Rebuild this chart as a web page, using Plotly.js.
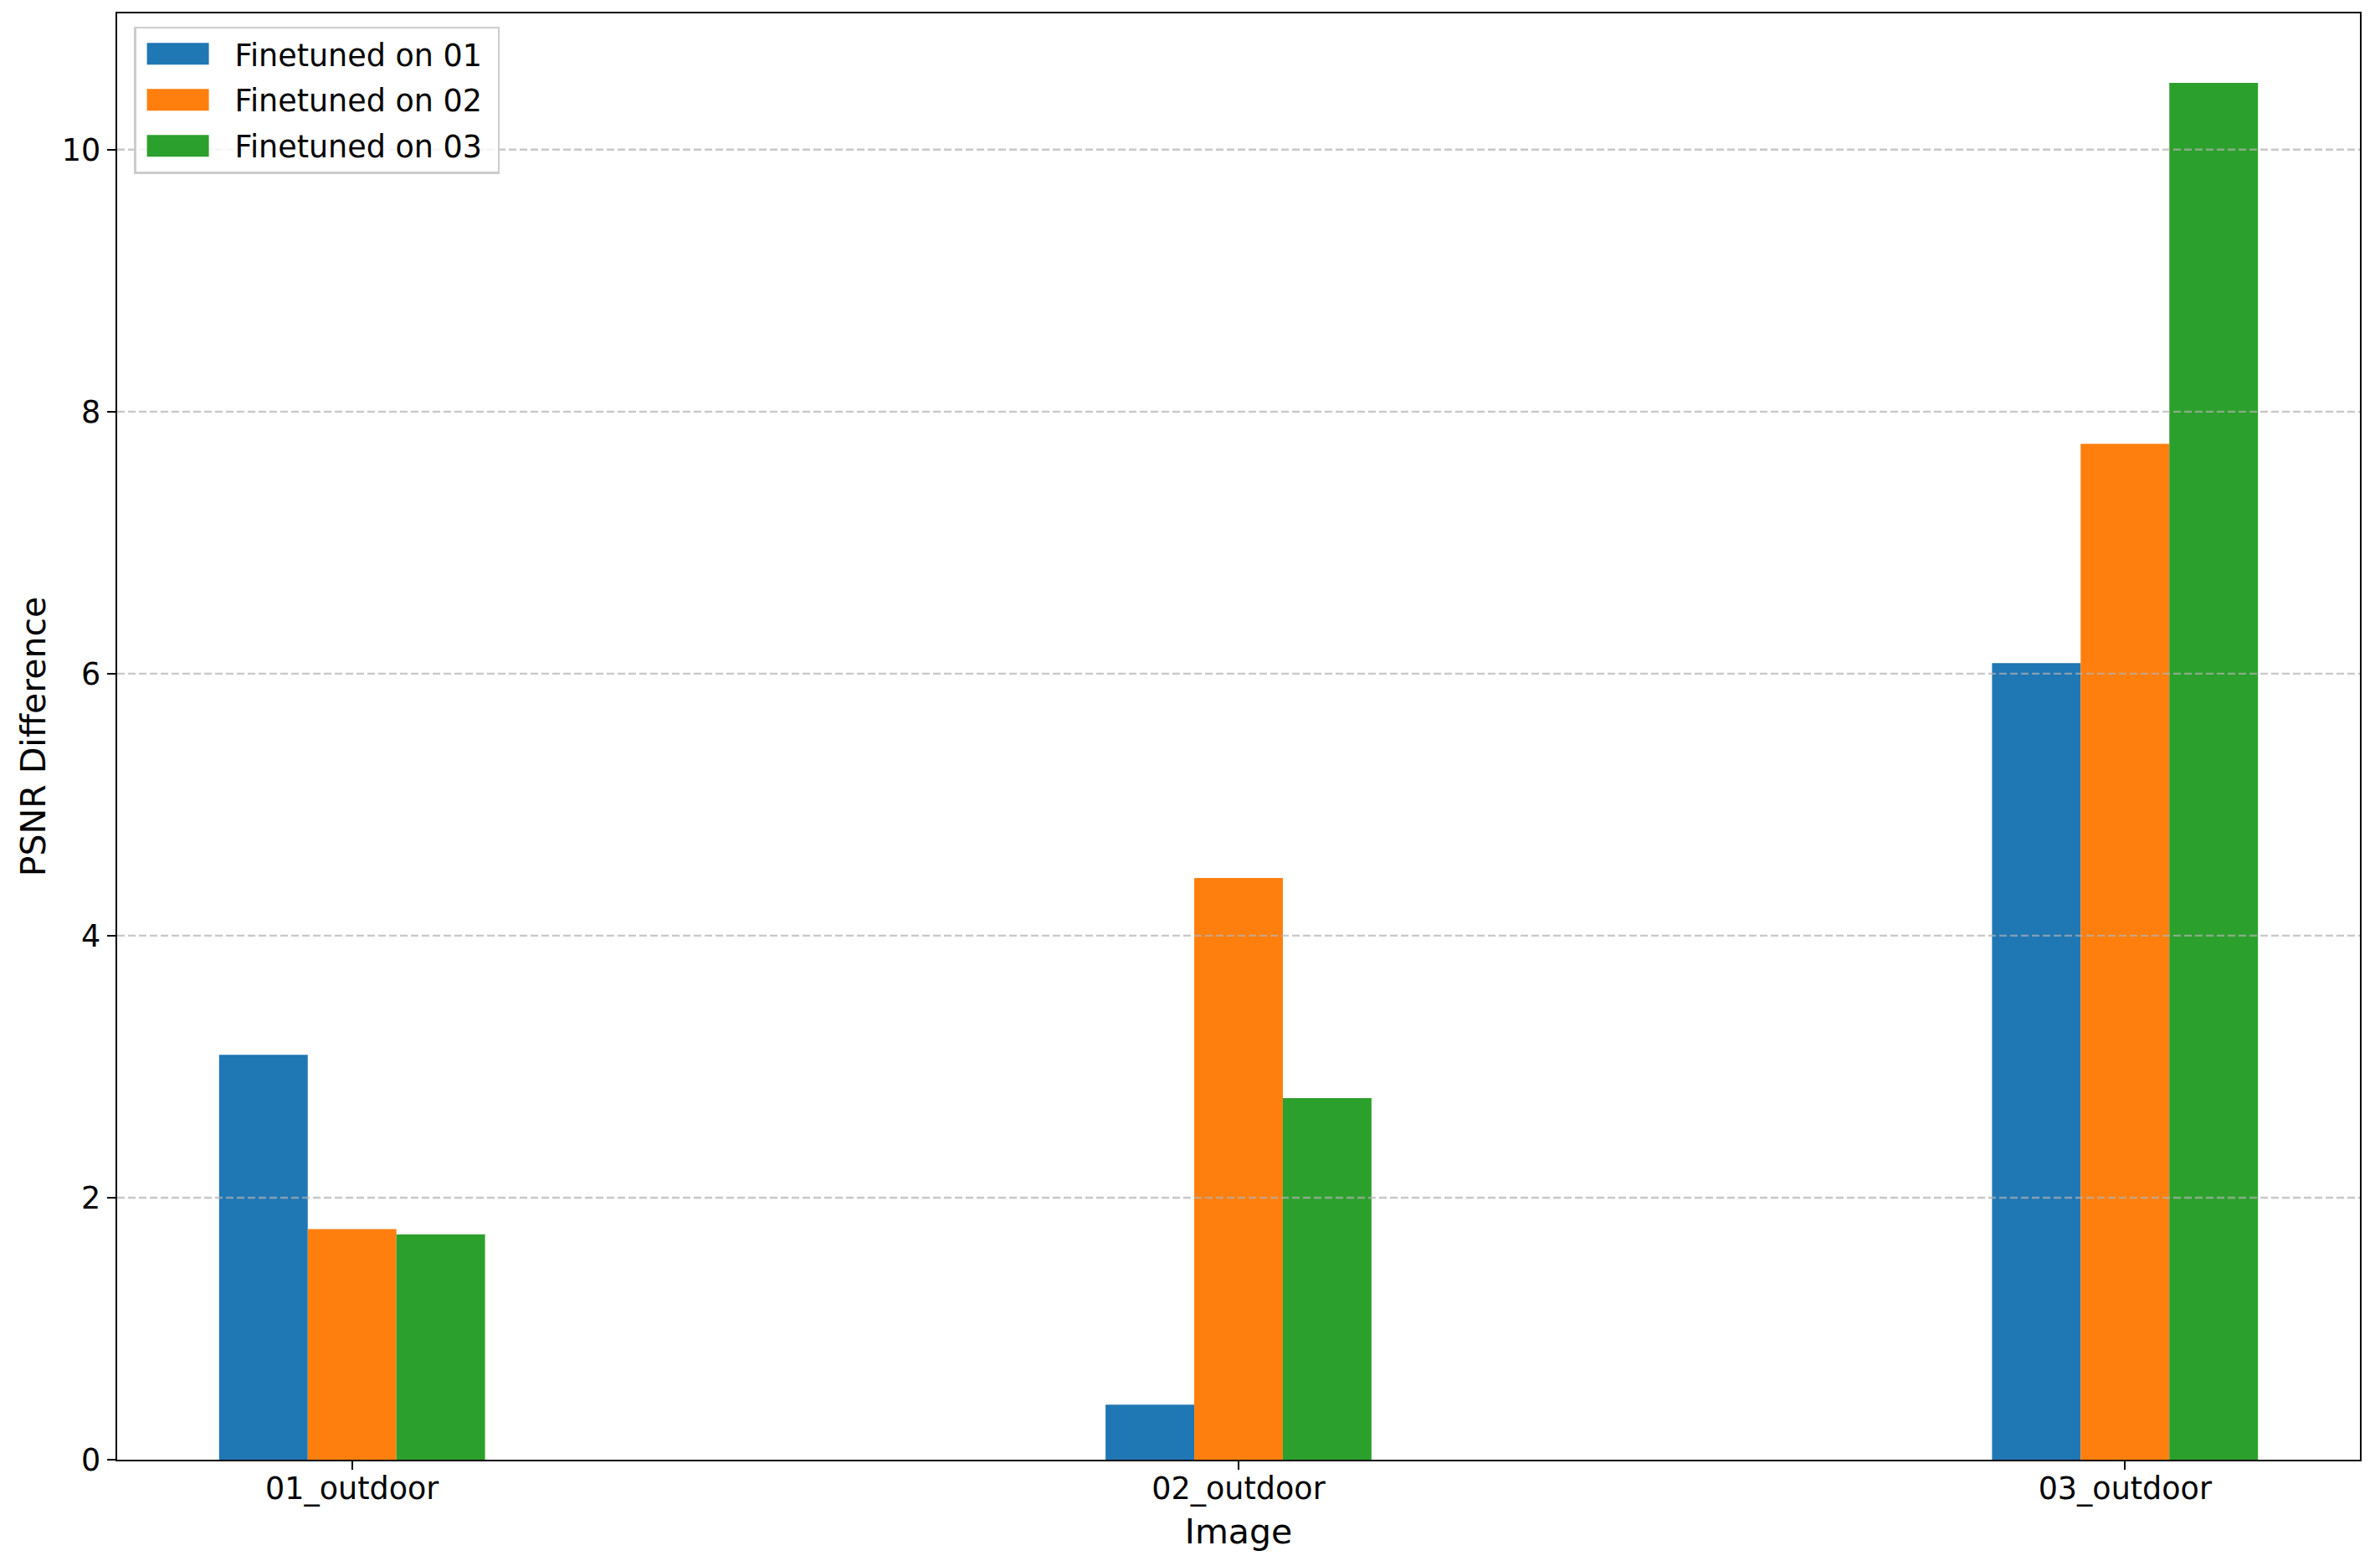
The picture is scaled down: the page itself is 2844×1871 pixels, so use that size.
<!DOCTYPE html>
<html>
<head>
<meta charset="utf-8">
<script src="https://cdn.plot.ly/plotly-3.0.1.min.js"></script>
<style>body{margin:0;padding:0;background:#fff;}#chart{width:2844px;height:1871px;}</style>
</head>
<body>
<div id="chart"></div>
<script>
// ---- data ----
var categories = ["01_outdoor", "02_outdoor", "03_outdoor"];
var seriesNames = ["Finetuned on 01", "Finetuned on 02", "Finetuned on 03"];
var finetuned01 = [3.09, 0.42, 6.08];
var finetuned02 = [1.76, 4.44, 7.755];
var finetuned03 = [1.72, 2.76, 10.51];
var yTicks = [0, 2, 4, 6, 8, 10];
var xTitle = "Image";
var yTitle = "PSNR Difference";

var colors = ["#1f77b4", "#ff7f0e", "#2ca02c"];
var allSeries = [finetuned01, finetuned02, finetuned03];
var FONT = "DejaVu Sans, Liberation Sans, sans-serif";

var traces = allSeries.map(function (vals, i) {
  return {
    type: "bar",
    name: seriesNames[i],
    x: categories,
    y: vals,
    marker: { color: colors[i], line: { width: 0 } },
    legendgroup: "g" + i,
    hoverinfo: "x+y+name"
  };
});

var shapes = yTicks.filter(function (v) { return v > 0; }).map(function (v) {
  return {
    type: "line", xref: "paper", yref: "y", x0: 0, x1: 1, y0: v, y1: v,
    line: { color: "rgba(176,176,176,0.7)", width: 2.4, dash: "9px,4px" },
    layer: "above"
  };
});

var layout = {
  width: 2844,
  height: 1871,
  margin: { l: 140, r: 24, t: 16, b: 127, pad: 0 },
  paper_bgcolor: "#ffffff",
  plot_bgcolor: "#ffffff",
  font: { family: FONT, color: "#000000", size: 36.5 },
  barmode: "group",
  bargap: 0.7,
  bargroupgap: 0,
  showlegend: true,
  legend: {
    x: 0.0075, y: 0.991, xanchor: "left", yanchor: "top",
    bgcolor: "rgba(255,255,255,0.8)",
    bordercolor: "#cccccc", borderwidth: 2.5,
    font: { family: FONT, size: 36.5, color: "#000000" },
    itemwidth: 108,
    traceorder: "grouped",
    tracegroupgap: 4.5
  },
  xaxis: {
    type: "category",
    range: [-0.265, 2.265],
    showline: true, mirror: true, linecolor: "#000000", linewidth: 2.4,
    ticks: "outside", ticklen: 10, tickwidth: 2.4, tickcolor: "#000000",
    ticklabelstandoff: -9,
    tickfont: { family: FONT, size: 36.5, color: "#000000" },
    showgrid: false, zeroline: false,
    automargin: false,
    title: { text: xTitle, font: { family: FONT, size: 41, color: "#000000" }, standoff: 16 }
  },
  yaxis: {
    range: [0, 11.04],
    tickmode: "array", tickvals: yTicks, ticktext: yTicks.map(String),
    showline: true, mirror: true, linecolor: "#000000", linewidth: 2.4,
    ticks: "outside", ticklen: 10, tickwidth: 2.4, tickcolor: "#000000",
    tickfont: { family: FONT, size: 36.5, color: "#000000" },
    showgrid: false, zeroline: false,
    automargin: false,
    title: { text: yTitle, font: { family: FONT, size: 41, color: "#000000" }, standoff: 7 }
  },
  shapes: shapes
};

Plotly.newPlot("chart", traces, layout, { displayModeBar: false, staticPlot: true }).then(function () {
  var pts = document.querySelectorAll("#chart .legend .legendpoints path");
  pts.forEach(function (p) { p.setAttribute("d", "M28,13H-46V-13H28Z"); });
  var bg = document.querySelector("#chart .legend rect.bg");
  if (bg) {
    var w = parseFloat(bg.getAttribute("width"));
    if (!isNaN(w)) bg.setAttribute("width", String(w + 13));
  }
});
</script>
</body>
</html>
